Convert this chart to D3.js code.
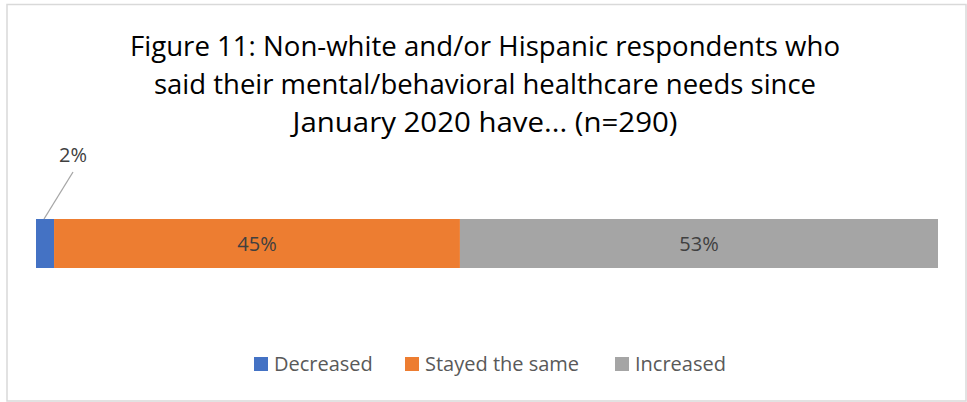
<!DOCTYPE html>
<html>
<head>
<meta charset="utf-8">
<script src="https://cdn.jsdelivr.net/npm/d3@7"></script>
<style>
  html, body { margin: 0; padding: 0; background: #fff; }
  svg { display: block; }
  text { font-family: "Open Sans", "Noto Sans", sans-serif; }
</style>
</head>
<body>
<svg id="chart" width="967" height="402"></svg>
<script>
// Survey responses (percent of respondents)
const categories = ["Decreased", "Stayed the same", "Increased"];
const values = [2, 45, 53];
const colors = ["#4472C4", "#ED7D31", "#A5A5A5"];
const titleLines = [
  "Figure 11: Non-white and/or Hispanic respondents who",
  "said their mental/behavioral healthcare needs since",
  "January 2020 have... (n=290)"
];

const svg = d3.select("#chart");

// chart frame
svg.append("rect")
  .attr("x", 7).attr("y", 4.5)
  .attr("width", 959).attr("height", 396.5)
  .attr("fill", "#fff")
  .attr("stroke", "#d9d9d9").attr("stroke-width", 1.5);

// title, each line fitted to its set width
const titleWidths = [710, 662, 385];
const title = svg.append("g");
titleLines.forEach((line, i) => {
  title.append("text")
    .attr("x", 485).attr("y", 56 + i * 38)
    .attr("text-anchor", "middle")
    .attr("font-size", 26.5)
    .attr("fill", "#000")
    .attr("textLength", titleWidths[i])
    .attr("lengthAdjust", "spacingAndGlyphs")
    .text(line);
});

// stacked bar
const x = d3.scaleLinear().domain([0, d3.sum(values)]).range([36, 938]);
const y = d3.scaleBand().domain(["all"]).range([219, 268]).padding(0);

let acc = 0;
const segs = values.map((v, i) => {
  const s = { cat: categories[i], v, x0: acc, x1: acc + v, color: colors[i] };
  acc += v;
  return s;
});

svg.append("g").selectAll("rect")
  .data(segs)
  .join("rect")
  .attr("x", d => x(d.x0))
  .attr("y", y("all"))
  .attr("width", d => x(d.x1) - x(d.x0))
  .attr("height", y.bandwidth())
  .attr("fill", d => d.color);

// inside labels for wide segments
svg.append("g").selectAll("text")
  .data(segs.filter(d => d.v >= 10))
  .join("text")
  .attr("x", d => (x(d.x0) + x(d.x1)) / 2)
  .attr("y", y("all") + y.bandwidth() / 2 + 7.5)
  .attr("text-anchor", "middle")
  .attr("font-size", 20)
  .attr("fill", "#404040")
  .text(d => d.v + "%");

// callout label with leader line for the thin segment
segs.filter(d => d.v < 10).forEach(d => {
  const bx = x(d.x0) + 8;
  const by = y("all");
  svg.append("line")
    .attr("x1", bx).attr("y1", by)
    .attr("x2", bx + 29).attr("y2", by - 47)
    .attr("stroke", "#a6a6a6").attr("stroke-width", 1.3);
  svg.append("text")
    .attr("x", bx + 29).attr("y", by - 57)
    .attr("text-anchor", "middle")
    .attr("font-size", 20)
    .attr("fill", "#404040")
    .text(d.v + "%");
});

// legend
const legendX = [254, 405, 615];
const legend = svg.append("g");
categories.forEach((c, i) => {
  const g = legend.append("g").attr("transform", `translate(${legendX[i]},357)`);
  g.append("rect").attr("width", 14).attr("height", 14).attr("fill", colors[i]);
  g.append("text")
    .attr("x", 20).attr("y", 13.5)
    .attr("font-size", 20)
    .attr("fill", "#595959")
    .text(c);
});
</script>
</body>
</html>
